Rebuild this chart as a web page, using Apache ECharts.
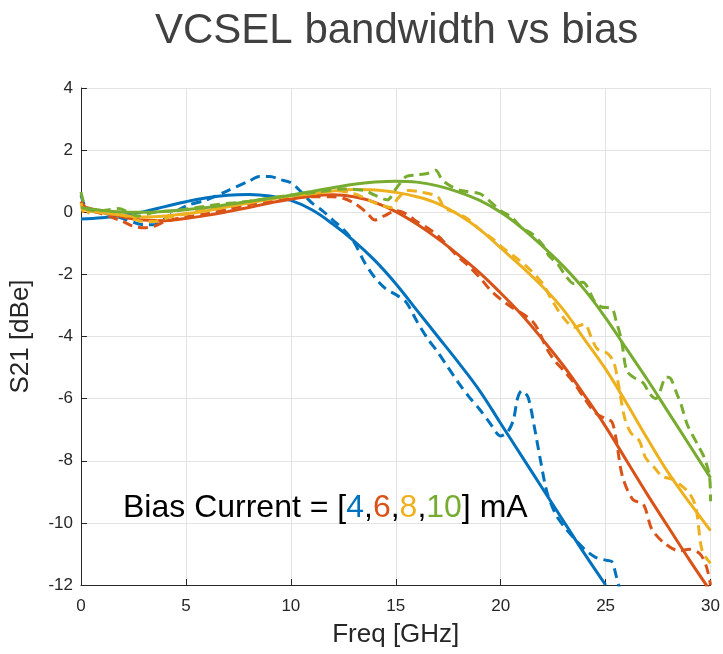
<!DOCTYPE html>
<html>
<head>
<meta charset="utf-8">
<script src="https://cdn.jsdelivr.net/npm/echarts@6/dist/echarts.min.js"></script>
<style>
html,body{margin:0;padding:0;background:#fff;}
#chart{width:723px;height:654px;}
</style>
</head>
<body>
<div id="chart"></div>
<script>
// ---- data ----
const biasLabels = ['4', '6', '8', '10'];
const seriesColors = ['#0072BD', '#D95319', '#EDB120', '#77AC30'];

// fitted (solid) curves, 1 GHz grid
const fitFreq = [0,1,2,3,4,5,6,7,8,9,10,11,12,13,14,15,16,17,18,19,20,21,22,23,24,25,26,27,28,29,30];
const fit4mA  = [-0.22,-0.18,-0.1,0.02,0.18,0.34,0.47,0.55,0.57,0.52,0.38,0.08,-0.38,-0.92,-1.55,-2.3,-3.15,-4.0,-4.85,-5.75,-6.8,-7.85,-8.9,-9.95,-11.0,-12.0,null,null,null,null,null];
const fit6mA  = [0.2,0.02,-0.15,-0.25,-0.27,-0.2,-0.1,0.02,0.15,0.3,0.42,0.52,0.56,0.5,0.32,0.02,-0.38,-0.85,-1.38,-1.95,-2.6,-3.3,-4.1,-4.95,-5.9,-6.9,-8.0,-9.1,-10.15,-11.2,-12.2];
const fit8mA  = [0.1,-0.02,-0.1,-0.15,-0.12,-0.05,0.05,0.18,0.3,0.42,0.52,0.6,0.68,0.73,0.72,0.64,0.5,0.28,-0.08,-0.55,-1.15,-1.75,-2.4,-3.15,-4.1,-5.05,-6.15,-7.3,-8.4,-9.35,-10.25];
const fit10mA = [0.15,0.06,0.01,0.0,0.03,0.08,0.15,0.25,0.35,0.45,0.55,0.67,0.79,0.9,0.97,1.0,0.97,0.85,0.65,0.38,0.0,-0.5,-1.1,-1.75,-2.5,-3.4,-4.4,-5.4,-6.45,-7.5,-8.55];

// measured (dashed) curves
const meas4mAFreq = [0,0.25,0.5,1,2,3,3.5,4,5,6,7,8,8.5,9,9.5,10,10.5,11,11.5,12,12.5,13,13.5,14,14.5,15,15.5,16,16.5,17,17.5,18,18.5,19,19.5,20,20.3,20.6,20.8,21,21.3,21.6,21.9,22.2,22.6,23,23.5,24,24.5,25,25.3,25.5,25.7];
const meas4mA     = [0.55,0.1,0.05,0.0,-0.2,-0.4,-0.4,-0.2,0.2,0.4,0.7,1.0,1.15,1.15,1.05,0.95,0.65,0.3,0.05,-0.25,-0.55,-0.95,-1.6,-2.1,-2.45,-2.65,-2.9,-3.5,-4.05,-4.5,-5.0,-5.5,-5.95,-6.35,-6.8,-7.2,-7.1,-6.7,-6.0,-5.75,-5.95,-6.9,-8.0,-9.0,-9.7,-10.1,-10.5,-10.85,-11.1,-11.2,-11.25,-11.7,-12.2];

const meas6mAFreq = [0,0.3,1,2,2.5,3,3.5,4,5,6,7,8,9,10,11,12,12.5,13,13.6,14,14.5,15,15.5,16,16.5,17,17.5,18,18.5,19,19.5,20,20.5,21,21.5,21.8,22.2,22.6,23,23.5,24,24.5,25,25.3,25.5,25.8,26.3,26.8,27.2,27.8,28.5,29,29.5,29.8,30];
const meas6mA     = [0.35,0.1,-0.05,-0.3,-0.45,-0.5,-0.45,-0.3,-0.15,-0.05,0.1,0.25,0.35,0.45,0.5,0.5,0.45,0.3,0.0,-0.25,-0.1,0.05,-0.05,-0.3,-0.5,-0.75,-1.1,-1.45,-1.75,-2.1,-2.5,-2.8,-3.05,-3.25,-3.5,-3.8,-4.4,-4.8,-5.1,-5.5,-6.0,-6.45,-6.65,-6.75,-7.3,-8.5,-9.25,-9.4,-10.2,-10.65,-10.9,-10.85,-11.0,-11.4,-12.0];

const meas8mAFreq = [0,0.2,0.5,1,2,3,3.5,4,5,6,7,8,9,10,11,12,13,13.7,14.2,14.8,15.1,15.6,16.2,17,17.3,17.8,18.4,19,19.6,20.2,20.8,21.4,22,22.5,23,23.5,24,24.3,24.6,25.1,25.4,25.6,25.9,26.2,26.6,26.9,27.3,27.7,28.2,28.7,29,29.3,29.6,30];
const meas8mA     = [0.3,-0.1,0.05,0.05,-0.1,-0.3,-0.3,-0.2,-0.05,0.1,0.2,0.35,0.45,0.55,0.6,0.7,0.6,0.4,0.25,0.15,0.45,0.7,0.65,0.5,0.15,0.0,-0.2,-0.55,-0.85,-1.2,-1.5,-1.85,-2.3,-2.9,-3.4,-3.7,-3.6,-4.0,-4.4,-4.55,-4.85,-5.5,-6.6,-7.1,-7.35,-7.9,-8.2,-8.5,-8.6,-8.85,-9.05,-9.5,-10.9,-11.3];

const meas10mAFreq = [0,0.3,1,1.8,2.7,3.5,4.5,5.5,6.5,8,9,10,11.3,12.5,13.5,14,14.6,15,15.5,16,16.5,16.9,17.2,17.6,18.1,19,19.4,20,20.5,21,21.5,22,22.3,22.7,23.1,23.5,23.9,24.5,24.8,25.3,25.5,25.75,26,26.3,26.8,27.1,27.4,27.9,28.1,28.4,28.6,28.9,29.4,29.7,29.95,30];
const meas10mA     = [0.65,0.1,0.05,0.12,-0.12,0.0,0.05,0.15,0.25,0.35,0.45,0.55,0.65,0.75,0.7,0.55,0.4,0.75,1.15,1.2,1.25,1.35,1.05,0.85,0.7,0.6,0.4,0.05,-0.15,-0.5,-0.7,-1.05,-1.4,-1.65,-2.05,-2.3,-2.25,-2.9,-3.05,-3.1,-3.5,-4.1,-5.1,-5.3,-5.5,-5.85,-6.0,-5.3,-5.35,-5.85,-6.2,-6.85,-7.5,-7.9,-8.5,-9.3];

const xTicks = {min: 0, max: 30, step: 5};
const yTicks = {min: -12, max: 4, step: 2};

// ---- build ----
function zip(xs, ys) { return xs.map((x, i) => [x, ys[i]]); }
const fits = [fit4mA, fit6mA, fit8mA, fit10mA];
const measF = [meas4mAFreq, meas6mAFreq, meas8mAFreq, meas10mAFreq];
const measV = [meas4mA, meas6mA, meas8mA, meas10mA];

const series = [];
for (let k = 0; k < 4; k++) {
  series.push({
    type: 'line', name: biasLabels[k] + ' mA meas', data: zip(measF[k], measV[k]),
    showSymbol: false, smooth: 0.3, clip: true, z: 2 + k * 2,
    lineStyle: {color: seriesColors[k], width: 3, type: [10, 6]}
  });
  series.push({
    type: 'line', name: biasLabels[k] + ' mA fit', data: zip(fitFreq, fits[k]),
    showSymbol: false, smooth: 0.4, clip: true, connectNulls: false, z: 3 + k * 2,
    lineStyle: {color: seriesColors[k], width: 3}
  });
}

const FONT = 'Liberation Sans, Arial, sans-serif';
const axisCol = '#262626';
const gridCol = '#e3e3e3';
const chart = echarts.init(document.getElementById('chart'), null, {renderer: 'canvas'});
chart.setOption({
  animation: false,
  backgroundColor: '#ffffff',
  title: {
    text: 'VCSEL bandwidth vs bias',
    left: 150, top: 5,
    textStyle: {fontFamily: FONT, fontSize: 42, fontWeight: 'normal', color: '#404040'}
  },
  grid: {left: 79, right: 11, top: 88, bottom: 69, containLabel: false},
  xAxis: {
    type: 'value', min: xTicks.min, max: xTicks.max, interval: xTicks.step,
    name: 'Freq [GHz]', nameLocation: 'middle', nameGap: 37,
    nameTextStyle: {fontFamily: FONT, fontSize: 26, color: axisCol},
    axisLine: {show: true, onZero: false, lineStyle: {color: axisCol, width: 1}},
    axisTick: {show: true, inside: true, length: 6, lineStyle: {color: axisCol}},
    axisLabel: {fontFamily: FONT, fontSize: 17, color: axisCol, margin: 13},
    splitLine: {show: true, lineStyle: {color: gridCol, width: 1}}
  },
  yAxis: {
    type: 'value', min: yTicks.min, max: yTicks.max, interval: yTicks.step,
    name: 'S21 [dBe]', nameLocation: 'middle', nameGap: 47,
    nameTextStyle: {fontFamily: FONT, fontSize: 26, color: axisCol},
    axisLine: {show: true, onZero: false, lineStyle: {color: axisCol, width: 1}},
    axisTick: {show: true, inside: true, length: 6, lineStyle: {color: axisCol}},
    axisLabel: {fontFamily: FONT, fontSize: 17, color: axisCol, margin: 8},
    splitLine: {show: true, lineStyle: {color: gridCol, width: 1}}
  },
  graphic: [{
    type: 'text', left: 123, top: 492, z: 100,
    style: {
      text: 'Bias Current = [{b|' + biasLabels[0] + '},{o|' + biasLabels[1] + '},{y|' + biasLabels[2] + '},{g|' + biasLabels[3] + '}] mA',
      fontFamily: FONT, fontSize: 32, fill: '#000',
      rich: {
        b: {fill: seriesColors[0], fontSize: 32, fontFamily: FONT},
        o: {fill: seriesColors[1], fontSize: 32, fontFamily: FONT},
        y: {fill: seriesColors[2], fontSize: 32, fontFamily: FONT},
        g: {fill: seriesColors[3], fontSize: 32, fontFamily: FONT}
      }
    }
  }],
  series: series
});
</script>
</body>
</html>
